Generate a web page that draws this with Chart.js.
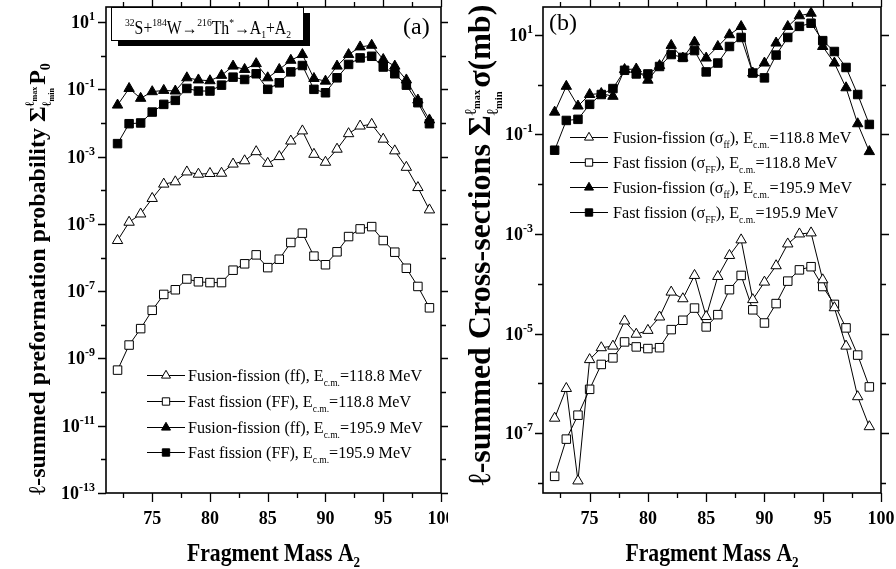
<!DOCTYPE html>
<html><head><meta charset="utf-8">
<script src="https://cdn.jsdelivr.net/npm/chart.js@4.4.1/dist/chart.umd.min.js"></script>
<style>
html,body{margin:0;padding:0;background:#fff;}
#wrap{position:relative;width:896px;height:569px;overflow:hidden;background:#fff}
canvas{position:absolute;top:0}
</style></head><body>
<div id="wrap">
<canvas id="c1" width="448" height="569" style="left:0"></canvas>
<canvas id="c2" width="448" height="569" style="left:448px"></canvas>
</div>
<script>
// ---------- DATA ----------
const massA2 = [72,73,74,75,76,77,78,79,80,81,82,83,84,85,86,87,88,89,90,91,92,93,94,95,96,97,98,99];
const xTickValues = [75,80,85,90,95,100];
const leftTickExponents = [1,-1,-3,-5,-7,-9,-11,-13];
const rightTickExponents = [1,-1,-3,-5,-7];

// Panel (a): l-summed preformation probability
const p0_ff_118 = [3.2e-6,1.12e-5,1.97e-5,5.7e-5,1.52e-4,1.78e-4,3.5e-4,3.0e-4,3.15e-4,3.2e-4,6.0e-4,7.5e-4,1.4e-3,6.3e-4,1.0e-3,2.9e-3,5.8e-3,1.17e-3,6.8e-4,1.66e-3,4.8e-3,8.1e-3,9.1e-3,3.3e-3,1.48e-3,4.8e-4,1.2e-4,2.6e-5];
const p0_FF_118 = [4.5e-10,2.5e-9,7.7e-9,2.7e-8,8.0e-8,1.1e-7,2.3e-7,1.9e-7,1.8e-7,1.8e-7,4.2e-7,6.5e-7,1.2e-6,5.0e-7,8.9e-7,2.8e-6,5.3e-6,1.1e-6,6.1e-7,1.48e-6,4.2e-6,7.1e-6,8.3e-6,3.2e-6,1.44e-6,4.8e-7,1.38e-7,3.2e-8];
const p0_ff_195 = [0.034,0.106,0.054,0.085,0.093,0.089,0.22,0.19,0.18,0.26,0.49,0.39,0.58,0.22,0.39,0.73,1.08,0.21,0.175,0.49,1.08,1.82,2.04,0.77,0.49,0.19,0.048,0.0123];
const p0_FF_195 = [0.00243,0.0095,0.0100,0.0211,0.0357,0.047,0.106,0.089,0.089,0.133,0.23,0.196,0.29,0.1,0.156,0.33,0.51,0.1,0.079,0.22,0.55,0.86,0.96,0.46,0.29,0.133,0.04,0.0095];

// Panel (b): l-summed cross-sections (mb)
const sig_ff_118 = [2.0e-7,7.9e-7,1.1e-8,3.0e-6,5.2e-6,5.6e-6,1.79e-5,9.7e-6,1.16e-5,2.15e-5,6.8e-5,5.0e-5,1.47e-4,2.2e-5,1.4e-4,3.7e-4,7.6e-4,4.8e-5,1.08e-4,2.3e-4,6.3e-4,1.0e-3,1.05e-3,1.2e-4,3.3e-5,5.6e-6,5.4e-7,1.35e-7];
const sig_FF_118 = [1.36e-8,7.6e-8,2.3e-7,7.6e-7,2.4e-6,3.25e-6,6.8e-6,5.4e-6,5.0e-6,5.2e-6,1.2e-5,1.85e-5,3.25e-5,1.36e-5,2.4e-5,7.6e-5,1.47e-4,3.0e-5,1.63e-5,4.0e-5,1.13e-4,1.9e-4,2.2e-4,8.8e-5,3.85e-5,1.3e-5,3.7e-6,8.5e-7];
const sig_ff_195 = [0.279,0.92,0.37,0.63,0.66,0.58,2.0,2.05,1.22,2.4,6.1,3.4,7.1,3.4,5.8,10,14.6,1.7,2.7,6.8,14.6,24,27,5.8,2.7,0.86,0.163,0.045];
const sig_FF_195 = [0.048,0.19,0.2,0.4,0.63,0.83,1.93,1.63,1.63,2.3,4.0,3.5,4.8,1.79,2.7,5.8,8.8,1.7,1.36,3.9,8.8,14.7,17,7.6,4.6,2.2,0.63,0.158];

// ---------- rich text helpers ----------
const SERIF = '"Liberation Serif","Times New Roman",serif';
const S = (t, s, o) => Object.assign({t, s}, o || {});
function fnt(s){ return (s.i?'italic ':'') + (s.b?'bold ':'') + s.s + 'px ' + SERIF; }
function measureRich(ctx, segs){
  let w = 0;
  for (const s of segs){
    if (s.stack){ w += Math.max(measureRich(ctx, s.stack[0]), measureRich(ctx, s.stack[1])) + (s.pad||0); }
    else { ctx.font = fnt(s); w += ctx.measureText(s.t).width + (s.dx||0); }
  }
  return w;
}
function drawRich(ctx, x, y, segs){
  for (const s of segs){
    if (s.stack){
      const w0 = measureRich(ctx, s.stack[0]), w1 = measureRich(ctx, s.stack[1]);
      drawRich(ctx, x, y, s.stack[0]); drawRich(ctx, x, y, s.stack[1]);
      x += Math.max(w0, w1) + (s.pad||0);
    } else {
      ctx.font = fnt(s);
      ctx.fillText(s.t, x, y + (s.dy||0));
      x += ctx.measureText(s.t).width + (s.dx||0);
    }
  }
  return x;
}
function drawRichScaled(ctx, x, y, segs, sx){
  ctx.save(); ctx.translate(x, y); ctx.scale(sx, 1); drawRich(ctx, 0, 0, segs); ctx.restore();
}
const B = {b:true};
function sumStack(k){
  return {stack:[[S('ℓ',13*k,{b:true,dy:-11*k}),S('max',8*k,{b:true,dy:-8*k})],[S('ℓ',13*k,{b:true,dy:6*k}),S('min',8*k,{b:true,dy:9*k})]], pad:2};
}

function legendSegs(name, sub, energy){
  const segs = [];
  if (sub){ segs.push(S(name + ' (σ',17), S(sub,10,{dy:5}), S('), E',17)); }
  else { segs.push(S(name + ', E',17)); }
  segs.push(S('c.m.',10,{dy:5}), S('=' + energy + ' MeV',17));
  return segs;
}

// ---------- decoration plugin ----------
const deco = {
  id: 'deco',
  afterDraw(chart, args, o){
    const ctx = chart.ctx, a = chart.chartArea, xs = chart.scales.x, ys = chart.scales.y;
    ctx.save();
    ctx.fillStyle = '#000'; ctx.strokeStyle = '#000';
    // frame
    ctx.lineWidth = 1.6;
    ctx.strokeRect(a.left, a.top, a.right - a.left, a.bottom - a.top);
    // ticks
    ctx.lineWidth = 1.3;
    ctx.beginPath();
    const xt = [];
    xTickValues.forEach(v => { xt.push([v, 9]); xt.push([v - 2.5, 5]); });
    xt.forEach(([v, L]) => {
      if (v < xs.min || v > xs.max) return;
      const px = Math.round(xs.getPixelForValue(v)) + 0.5;
      ctx.moveTo(px, a.bottom); ctx.lineTo(px, a.bottom + L);
      ctx.moveTo(px, a.top); ctx.lineTo(px, a.top - L);
    });
    for (let e = -14; e <= 2; e++){
      const py = ys.getPixelForValue(Math.pow(10, e));
      if (py < a.top - 0.5 || py > a.bottom + 0.5) continue;
      const L = o.majorExps.includes(e) ? 8 : 5;
      const yy = Math.round(py) + 0.5;
      ctx.moveTo(a.left, yy); ctx.lineTo(a.left - L, yy);
      ctx.moveTo(a.right, yy); ctx.lineTo(a.right + L, yy);
    }
    ctx.stroke();
    // y tick labels
    ctx.textAlign = 'left'; ctx.textBaseline = 'alphabetic';
    o.majorExps.forEach(e => {
      const py = ys.getPixelForValue(Math.pow(10, e));
      const segs = [S('10',18,B), S(String(e),12,{b:true,dy:-8})];
      const w = measureRich(ctx, segs);
      drawRich(ctx, a.left - o.labelGap - w, py + 6, segs);
    });
    // x title
    const xw = measureRich(ctx, o.xTitle) * o.xTitleSx;
    drawRichScaled(ctx, (a.left + a.right)/2 - xw/2, o.xTitleY, o.xTitle, o.xTitleSx);
    // y title
    const yw = measureRich(ctx, o.yTitle);
    ctx.save();
    ctx.translate(o.yTitleX, o.yTitleY);
    ctx.rotate(-Math.PI/2);
    drawRich(ctx, -yw/2, o.yTitleBase, o.yTitle);
    ctx.restore();
    // panel label
    ctx.font = '24px ' + SERIF;
    ctx.fillText(o.panel[0], o.panel[1], o.panel[2]);
    // reaction box
    if (o.box){
      const [bx, by, bw, bh] = o.box;
      ctx.fillRect(bx + 7, by + 6, bw, bh);
      ctx.fillStyle = '#fff'; ctx.fillRect(bx, by, bw, bh);
      ctx.fillStyle = '#000'; ctx.lineWidth = 1; ctx.strokeRect(bx + 0.5, by + 0.5, bw, bh);
      const tw = measureRich(ctx, o.boxText);
      drawRichScaled(ctx, bx + 14, by + 27, o.boxText, o.boxTextWidth / tw);
    }
    // legend
    const L = o.legend;
    chart.data.datasets.forEach((ds, i) => {
      const ly = L.ys[i];
      ctx.lineWidth = 1; ctx.strokeStyle = '#000';
      ctx.beginPath(); ctx.moveTo(L.x0, ly + 0.5); ctx.lineTo(L.x1, ly + 0.5); ctx.stroke();
      ctx.fillStyle = ds.pointBackgroundColor;
      Chart.helpers.drawPoint(ctx, {pointStyle: ds.pointStyle, radius: ds.pointRadius - 0.8, borderWidth: 1, rotation: 0}, (L.x0 + L.x1)/2, ly + 0.5);
      ctx.fillStyle = '#000';
      drawRichScaled(ctx, L.tx, ly + 6, L.items[i], L.sx);
    });
    ctx.restore();
  }
};

function makeDatasets(vals){
  const styles = [['triangle','#fff'],['rect','#fff'],['triangle','#000'],['rect','#000']];
  return vals.map((v, i) => ({
    label: 'series' + i,
    data: massA2.map((m, k) => ({x: m, y: v[k]})),
    borderColor: '#000', borderWidth: 1,
    pointStyle: styles[i][0], pointBackgroundColor: styles[i][1],
    pointBorderColor: '#000', pointBorderWidth: 1,
    pointRadius: 6, tension: 0, fill: false
  }));
}

function makeChart(id, vals, yMin, yMax, yAxisWidth, padRight, deco_opts){
  return new Chart(document.getElementById(id), {
    type: 'line',
    data: {datasets: makeDatasets(vals)},
    plugins: [deco],
    options: {
      responsive: false, animation: false, devicePixelRatio: 1,
      layout: {padding: {top: 6, right: padRight, left: 0, bottom: 0}},
      plugins: {legend: {display: false}, tooltip: {enabled: false}, deco: deco_opts},
      elements: {line: {borderWidth: 1}},
      scales: {
        x: {
          type: 'linear', min: 71, max: 100,
          afterBuildTicks: s => { s.ticks = xTickValues.map(v => ({value: v})); },
          afterFit: s => { s.height = 76; s.paddingLeft = 0; s.paddingRight = 0; },
          grid: {display: false, drawTicks: false}, border: {display: false},
          ticks: {padding: 16, color: '#000', maxRotation: 0, font: {family: SERIF, weight: 'bold', size: 18}}
        },
        y: {
          type: 'logarithmic', min: yMin, max: yMax,
          afterFit: s => { s.width = yAxisWidth; s.paddingTop = 0; s.paddingBottom = 0; },
          grid: {display: false, drawTicks: false}, border: {display: false},
          ticks: {display: false}
        }
      }
    }
  });
}

const xTitleSegs = [S('Fragment Mass A',25,B), S('2',15,{b:true,dy:6})];

makeChart('c1', [p0_ff_118, p0_FF_118, p0_ff_195, p0_FF_195], 1e-13, 28, 106, 5, {
  majorExps: leftTickExponents, labelGap: 11,
  xTitle: xTitleSegs, xTitleY: 561, xTitleSx: 0.87,
  yTitle: [S('ℓ',24,B), S('-summed preformation probability ',24,B), S('Σ',24,B), sumStack(1), S('P',24,B), S('0',14,{b:true,dy:5})],
  yTitleX: 37, yTitleY: 279, yTitleBase: 8,
  panel: ['(a)', 403, 34],
  box: [111, 7, 192, 33], boxTextWidth: 166,
  boxText: [S('32',11,{dy:-8}),S('S+',18),S('184',11,{dy:-8}),S('W→',18),S('216',11,{dy:-8}),S('Th',18),S('*',11,{dy:-8}),S('→A',18),S('1',11,{dy:4}),S('+A',18),S('2',11,{dy:4})],
  legend: {x0: 147, x1: 185, tx: 188, sx: 0.95, ys: [375, 401, 427, 452], items: [
    legendSegs('Fusion-fission (ff)', null, '118.8'),
    legendSegs('Fast fission (FF)', null, '118.8'),
    legendSegs('Fusion-fission (ff)', null, '195.9'),
    legendSegs('Fast fission (FF)', null, '195.9')]}
});

makeChart('c2', [sig_ff_118, sig_FF_118, sig_ff_195, sig_FF_195], 6.3e-9, 36, 95, 15, {
  majorExps: rightTickExponents, labelGap: 10,
  xTitle: xTitleSegs, xTitleY: 561, xTitleSx: 0.87,
  yTitle: [S('ℓ',32,B), S('-summed Cross-sections ',32,B), S('Σ',32,B), sumStack(1.3), S('σ(mb)',32,B)],
  yTitleX: 31, yTitleY: 245, yTitleBase: 11,
  panel: ['(b)', 101, 30],
  box: null,
  legend: {x0: 122, x1: 160, tx: 165, sx: 0.95, ys: [137, 162, 187, 212], items: [
    legendSegs('Fusion-fission', 'ff', '118.8'),
    legendSegs('Fast fission', 'FF', '118.8'),
    legendSegs('Fusion-fission', 'ff', '195.9'),
    legendSegs('Fast fission', 'FF', '195.9')]}
});
</script>
</body></html>
